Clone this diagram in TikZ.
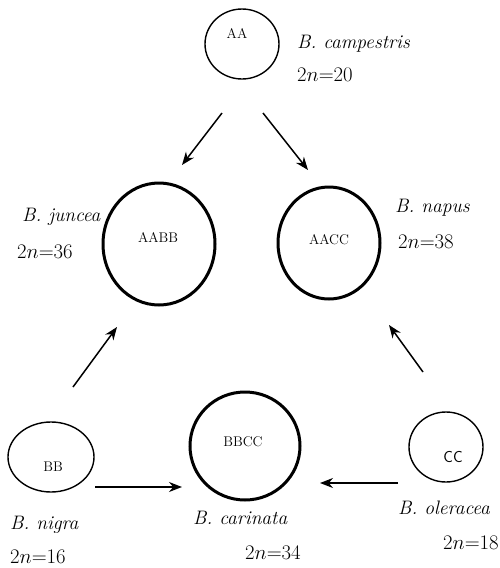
\documentclass[tikz,border=0pt]{standalone}
\usepackage{amsmath,amssymb}
\usepackage{xcolor}
\usepackage{tikz}
\usetikzlibrary{shapes.geometric,arrows.meta}

\tikzset{
  smallcell/.style={draw,ellipse,line width=1.4pt,inner sep=0pt},
  bigcell/.style={draw,ellipse,line width=3pt,inner sep=0pt},
  genome/.style={font=\fontsize{14}{16}\selectfont},
  species/.style={anchor=west,inner sep=0pt,font=\fontsize{19.5}{23}\selectfont\itshape},
  chrom/.style={anchor=west,inner sep=0pt,font=\fontsize{19.5}{23}\selectfont},
  arr/.style={-{Stealth[length=13pt,width=10pt]},line width=1.5pt}
}

\begin{document}
\begin{tikzpicture}[x=1pt,y=-1pt]
\useasboundingbox (0,0) rectangle (500,568);

% diploids
\node [smallcell,minimum width=74pt,minimum height=70pt] (aa) at (242,44) {};
\node [smallcell,minimum width=86pt,minimum height=70pt] (bb) at (51,457) {};
\node [smallcell,minimum width=74pt,minimum height=70pt] (cc) at (446,447) {};
% amphidiploids
\node [bigcell,minimum width=112pt,minimum height=122pt] (aabb) at (159,244) {};
\node [bigcell,minimum width=102pt,minimum height=112pt] (aacc) at (329,243) {};
\node [bigcell,minimum width=110pt,minimum height=108pt] (bbcc) at (245,446) {};

\node [genome] (aaT) at (237,33) {AA};
\node [genome] (bbT) at (53,467) {BB};
\node [genome,font=\fontsize{16}{18}\sffamily] (ccT) at (453,457) {CC};
\node [genome] (aabbT) at (158,237) {AABB};
\node [genome] (aaccT) at (329,240) {AACC};
\node [genome] (bbccT) at (243,442) {BBCC};

\node [species] (campN) at (297,44) {B. campestris};
\node [chrom] (campC) at (297,75) {$2n{=}20$};
\node [species] (juncN) at (22,217) {B. juncea};
\node [chrom] (juncC) at (17,252) {$2n{=}36$};
\node [species] (napN) at (395,208) {B. napus};
\node [chrom] (napC) at (398,242) {$2n{=}38$};
\node [species] (nigN) at (10,525) {B. nigra};
\node [chrom] (nigC) at (10,557) {$2n{=}16$};
\node [species] (carN) at (193,518) {B. carinata};
\node [chrom] (carC) at (245,553) {$2n{=}34$};
\node [species] (olN) at (398,508) {B. oleracea};
\node [chrom] (olC) at (443,543) {$2n{=}18$};

\coordinate (aaL) at (222,113);
\coordinate (aabbIn) at (182,165);
\coordinate (aaR) at (263,113);
\coordinate (aaccIn) at (308,170);
\coordinate (bbUp) at (73,387);
\coordinate (aabbLow) at (117,327);
\coordinate (ccUp) at (423,372);
\coordinate (aaccLow) at (389,325);
\coordinate (bbR) at (95,487);
\coordinate (bbccL) at (182,487);
\coordinate (ccL) at (398,483);
\coordinate (bbccR) at (320,483);

\draw [arr] (aaL) -- (aabbIn);
\draw [arr] (aaR) -- (aaccIn);
\draw [arr] (bbUp) -- (aabbLow);
\draw [arr] (ccUp) -- (aaccLow);
\draw [arr] (bbR) -- (bbccL);
\draw [arr] (ccL) -- (bbccR);

\end{tikzpicture}
\end{document}
